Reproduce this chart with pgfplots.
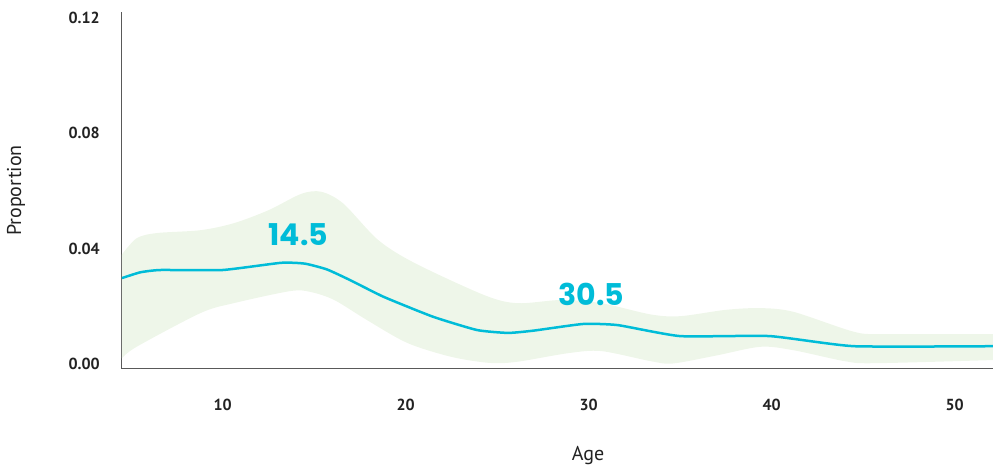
\documentclass[border=0pt]{standalone}
\usepackage{fontspec}
\setmainfont{PT Sans}
\newfontfamily\annofont{Poppins}
\usepackage{pgfplots}
\pgfplotsset{compat=1.18}
\usepgfplotslibrary{fillbetween}

\definecolor{linecyan}{HTML}{00BCD8}
\definecolor{bandgreen}{HTML}{EEF6E9}
\definecolor{ticktext}{HTML}{222222}

\begin{document}
\begin{tikzpicture}[x=1pt,y=1pt]
\begin{axis}[
    at={(0,0)}, anchor=south west,
    scale only axis,
    width=871pt, height=357pt,
    xmin=4.5, xmax=52.1,
    ymin=-0.0017, ymax=0.122,
    axis lines=left,
    axis line style={black!65, line width=1pt, -},
    major tick length=0pt,
    xtick={10,20,30,40,50},
    ytick={0,0.04,0.08,0.12},
    scaled y ticks=false,
    /pgf/number format/assume math mode=true,
    ticklabel style={font=\bfseries\fontsize{16}{16}\selectfont, text=ticktext},
    xticklabel style={anchor=center, yshift=-36pt},
    yticklabel style={anchor=east, inner sep=0pt, xshift=-22pt,
        /pgf/number format/.cd, fixed, fixed zerofill, precision=2},
    xlabel={Age}, ylabel={Proportion},
    every axis x label/.style={at={(axis description cs:0.535,-0.241)}, anchor=center,
        font=\fontsize{20}{20}\selectfont, text=ticktext},
    every axis y label/.style={at={(axis description cs:-0.1217,0.5)}, rotate=90, anchor=center,
        font=\fontsize{20}{20}\selectfont, text=ticktext},
    clip=false,
]
% upper and lower edge of the band
\addplot[name path=U, draw=none, smooth, tension=0.5] coordinates {
  (4.5,0.038) (5.3,0.0436) (6.4,0.0454) (8.8,0.0464) (10.6,0.0488)
  (12.5,0.0533) (14.3,0.059) (15.4,0.0597) (16.6,0.0556) (18.5,0.0430)
  (20.5,0.0350) (24.3,0.0239) (26.1,0.0211) (28.5,0.0222) (30.7,0.0211)
  (33.4,0.0172) (35.0,0.0166) (37.5,0.0188) (39.4,0.0194) (41.2,0.0181)
  (44.5,0.0112) (46.1,0.0104) (52.1,0.0104)
};
\addplot[name path=L, draw=none, smooth, tension=0.5] coordinates {
  (4.5,0.002) (5.3,0.006) (8.8,0.0177) (10.6,0.0211) (13.7,0.0253)
  (14.8,0.025) (16.1,0.0222) (17.9,0.0152) (20.1,0.0073) (22.5,0.0025)
  (24.6,0.0004) (26.1,0.0008) (28.9,0.0038) (30.7,0.0045) (33.4,0.0010)
  (34.6,0.0002) (37.0,0.003) (39.4,0.006) (41.2,0.0048) (44.0,0.001)
  (45.6,0.0003) (52.1,0.0014)
};
\addplot[bandgreen, draw=none] fill between[of=U and L];

% estimate
\addplot[linecyan, line width=2.5pt, smooth, tension=0.3] coordinates {
  (4.5,0.0298) (5.5,0.0318) (6.6,0.0326) (10,0.0326) (13.2,0.0351)
  (14.5,0.0348) (15.7,0.0328) (17,0.0290) (18.8,0.0233) (21.5,0.0164)
  (23.9,0.0118) (25.6,0.0108) (27.0,0.0116) (29.7,0.0139) (31.6,0.0135)
  (35.0,0.0097) (39.9,0.0097) (44.5,0.0062) (52.1,0.0062)
};

\node[font=\annofont\bfseries\fontsize{30}{30}\selectfont, text=linecyan] at (axis cs:14.13,0.045) {14.5};
\node[font=\annofont\bfseries\fontsize{30}{30}\selectfont, text=linecyan] at (axis cs:30.16,0.0242) {30.5};
\end{axis}
\pgfresetboundingbox
\path[use as bounding box] (-122pt,-99pt) rectangle (871pt,369pt);
\end{tikzpicture}
\end{document}
